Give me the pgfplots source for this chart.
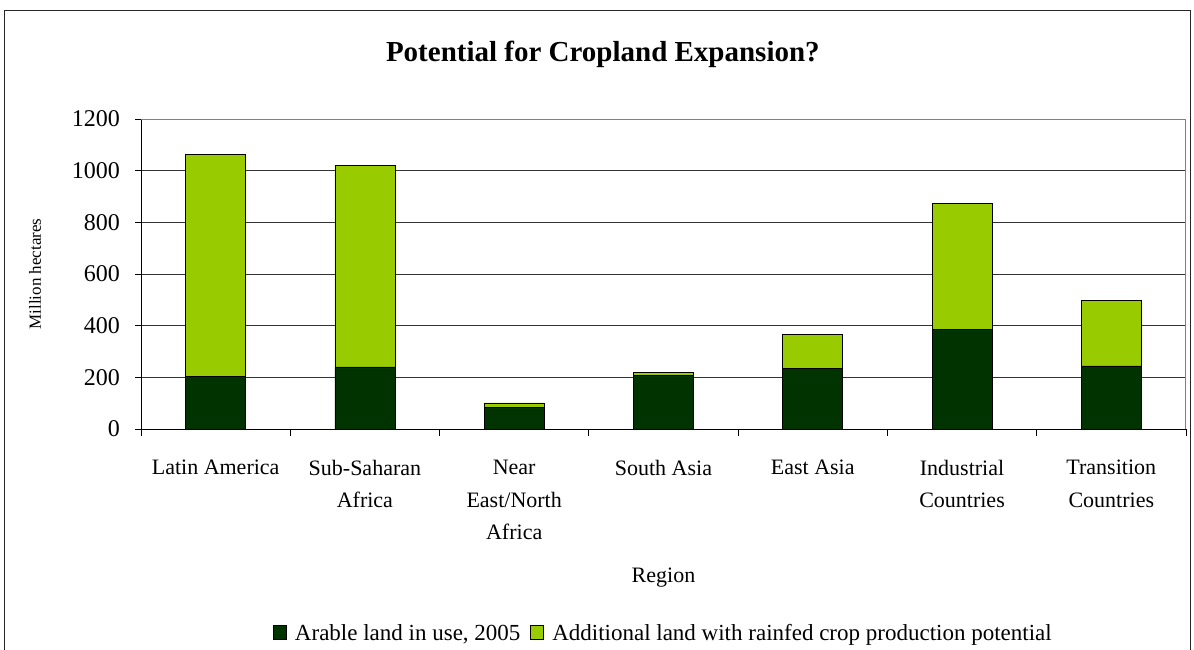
\documentclass[border=0pt]{standalone}
\usepackage{pgfplots}
\pgfplotsset{compat=1.18}
\usepackage{fontspec}
\setmainfont{Liberation Serif}
\definecolor{darkg}{HTML}{003300}
\definecolor{lightg}{HTML}{99CC00}
\begin{document}
\begin{tikzpicture}[x=1pt,y=1pt]
\useasboundingbox (0,0) rectangle (1194,650);
\draw[line width=1pt,black!85] (4,0) -- (4,639) -- (1190,639) -- (1190,0);
\begin{axis}[
  at={(141pt,221pt)}, anchor=south west,
  scale only axis, width=1045pt, height=310pt,
  ybar stacked, bar width=60pt,
  xmin=-0.5, xmax=6.5, ymin=0, ymax=1200,
  ytick={0,200,...,1200},
  xtick={0,...,6},
  xticklabels={Latin America,Sub-Saharan\\Africa,Near\\East/North\\Africa,South Asia,East Asia,Industrial\\Countries,Transition\\Countries},
  minor xtick={-0.5,0.5,...,6.5},
  major x tick style={draw=none},
  x tick style={black, line width=0.8pt},
  y tick style={black, line width=0.8pt},
  minor tick length=7pt, major tick length=6pt,
  tick align=outside, tick pos=left,
  axis x line*=bottom, axis y line*=left,
  axis line style={black, line width=0.9pt},
  ymajorgrids, grid style={black!80, line width=0.7pt},
  /pgf/number format/assume math mode=true,
  /pgf/number format/1000 sep={},
  scaled y ticks=false,
  yticklabel style={font=\fontsize{24}{26}\selectfont, anchor=east, inner sep=0pt, xshift=-15pt},
  xticklabel style={font=\fontsize{22}{32.5}\selectfont, align=center, anchor=north, inner sep=0pt, yshift=-25pt},
  title={\textbf{Potential for Cropland Expansion?}},
  title style={font=\fontsize{29}{31}\selectfont, at={(rel axis cs:0.442,1.190)}, anchor=center},
  ylabel={Million hectares},
  ylabel style={font=\fontsize{17}{19}\selectfont, at={(rel axis cs:-0.1014,0.5)}, anchor=center},
  xlabel={Region},
  xlabel style={font=\fontsize{22}{24}\selectfont, at={(rel axis cs:0.5,-0.4806)}, anchor=center},
  legend style={at={(rel axis cs:0.5,-0.658)}, anchor=center, draw=none, fill=none,
    legend columns=2, font=\fontsize{23}{25}\selectfont,
    /tikz/every odd column/.append style={column sep=6pt},
    /tikz/every even column/.append style={column sep=8pt}},
  legend image code/.code={\draw[#1, draw=black, line width=0.8pt] (0pt,-6pt) rectangle (13pt,8pt);},
  after end axis/.code={\draw[black!50, line width=0.9pt] (rel axis cs:0,1) -- (rel axis cs:1,1) -- (rel axis cs:1,0);},
]
\addplot[fill=darkg, draw=black, line width=0.8pt] coordinates {(0,203) (1,240) (2,82) (3,208) (4,234) (5,387) (6,244)};
\addlegendentry{Arable land in use, 2005}
\addplot[fill=lightg, draw=black, line width=0.8pt] coordinates {(0,860) (1,780) (2,19) (3,12) (4,132) (5,485) (6,252)};
\addlegendentry{Additional land with rainfed crop production potential}
\end{axis}
\end{tikzpicture}
\end{document}
